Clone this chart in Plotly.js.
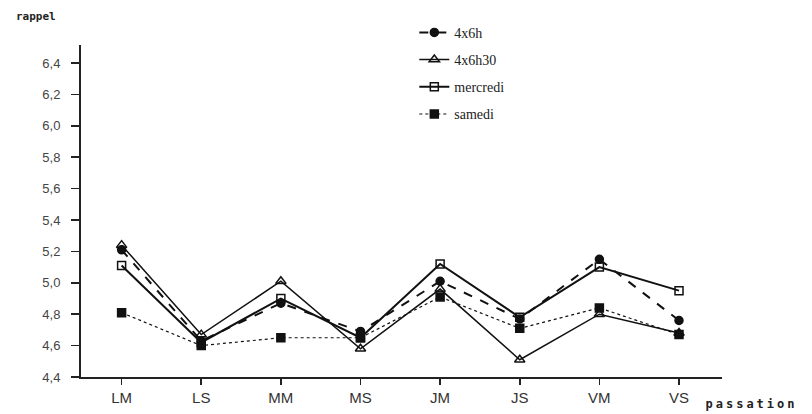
<!DOCTYPE html>
<html>
<head>
<meta charset="utf-8">
<script src="https://cdn.plot.ly/plotly-3.0.1.min.js"></script>
<style>html,body{margin:0;padding:0;background:#fff;}#chart{width:812px;height:414px;}</style>
</head>
<body>
<div id="chart"></div>
<script>
const categories = ["LM", "LS", "MM", "MS", "JM", "JS", "VM", "VS"];
const seriesNames = ["4x6h", "4x6h30", "mercredi", "samedi"];
const v4x6h     = [5.21, 4.63, 4.87, 4.69, 5.01, 4.77, 5.15, 4.76];
const v4x6h30   = [5.24, 4.67, 5.01, 4.58, 4.96, 4.51, 4.80, 4.68];
const vMercredi = [5.11, 4.62, 4.90, 4.65, 5.12, 4.78, 5.10, 4.95];
const vSamedi   = [4.81, 4.60, 4.65, 4.65, 4.91, 4.71, 4.84, 4.67];
const yTicks = [4.4, 4.6, 4.8, 5.0, 5.2, 5.4, 5.6, 5.8, 6.0, 6.2, 6.4];

const styles = [
  {dash: "dash", width: 2, symbol: "circle", msize: 8},
  {dash: "solid", width: 1.5, symbol: "triangle-up-open", msize: 9},
  {dash: "solid", width: 2, symbol: "square-open", msize: 8},
  {dash: "dot", width: 1.2, symbol: "square", msize: 8}
];
const allVals = [v4x6h, v4x6h30, vMercredi, vSamedi];
const traces = allVals.map((vals, i) => ({
  type: "scatter", mode: "lines+markers",
  name: seriesNames[i], legendgroup: "g" + i,
  x: categories.map((c, k) => k), y: vals,
  line: {color: "#111", width: styles[i].width, dash: styles[i].dash},
  marker: {color: "#111", symbol: styles[i].symbol, size: styles[i].msize,
           line: {color: "#111", width: 1.5}}
}));

const layout = {
  width: 812, height: 414,
  margin: {l: 81, r: 90, t: 45, b: 37},
  paper_bgcolor: "#fff", plot_bgcolor: "#fff",
  separators: ", ",
  showlegend: true,
  legend: {x: 0.52, y: 1.085, xanchor: "left", yanchor: "top",
           font: {family: "Liberation Serif, serif", size: 14, color: "#222"},
           tracegroupgap: 6, bgcolor: "rgba(0,0,0,0)", itemwidth: 30},
  xaxis: {
    range: [-0.51, 7.54], tickmode: "array",
    tickvals: categories.map((c, k) => k), ticktext: categories,
    showgrid: false, zeroline: false, showline: true, linecolor: "#222", linewidth: 2,
    ticks: "outside", ticklen: 6, tickwidth: 1.5, tickcolor: "#222",
    tickfont: {family: "Liberation Sans, Arial, sans-serif", size: 15, color: "#333"}
  },
  yaxis: {
    range: [4.4, 6.515], tickmode: "array", tickvals: yTicks,
    ticktext: yTicks.map(v => v.toFixed(1).replace(".", ",")),
    showgrid: false, zeroline: false, showline: true, linecolor: "#222", linewidth: 2,
    ticks: "outside", ticklen: 8, tickwidth: 1.5, tickcolor: "#222",
    ticklabelstandoff: 8,
    tickfont: {family: "Liberation Sans, Arial, sans-serif", size: 13, color: "#444"}
  },
  annotations: [
    {text: "<b>rappel</b>", xref: "paper", yref: "paper", x: -0.105, y: 1.06, xanchor: "left", yanchor: "bottom",
     showarrow: false, font: {family: "DejaVu Sans Mono, monospace", size: 11, color: "#222"}},
    {text: "<b>passation</b>", xref: "paper", yref: "paper", x: 0.992, y: -0.08, xanchor: "left", yanchor: "middle",
     showarrow: false, font: {family: "DejaVu Sans Mono, monospace", size: 12, color: "#222"}}
  ]
};
Plotly.newPlot("chart", traces, layout, {staticPlot: true, displayModeBar: false}).then(() => {
  document.querySelectorAll("#chart .annotation-text").forEach(t => {
    if (t.textContent === "passation") t.style.letterSpacing = "3px";
  });
});
</script>
</body>
</html>
